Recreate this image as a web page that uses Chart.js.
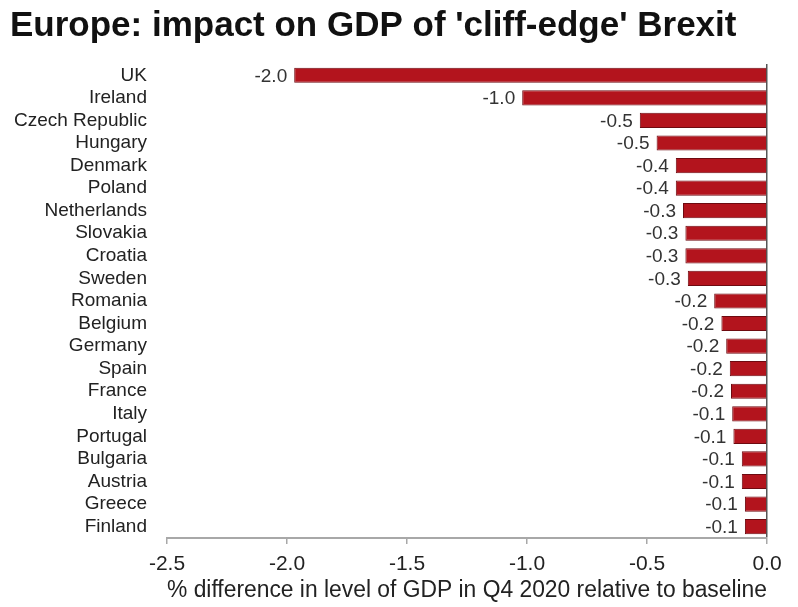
<!DOCTYPE html>
<html>
<head>
<meta charset="utf-8">
<title>Europe: impact on GDP of 'cliff-edge' Brexit</title>
<script src="https://cdn.jsdelivr.net/npm/chart.js@4.4.1/dist/chart.umd.min.js"></script>
<style>
    html, body { margin: 0; padding: 0; background: #fff; }
    #wrap { width: 798px; height: 607px; position: relative; }
</style>
</head>
<body>
<div id="wrap"><canvas id="chart-brexit"></canvas></div>
<script>
// Daten
const countries = [
    'UK', 'Ireland', 'Czech Republic', 'Hungary', 'Denmark', 'Poland', 'Netherlands',
    'Slovakia', 'Croatia', 'Sweden', 'Romania', 'Belgium', 'Germany', 'Spain',
    'France', 'Italy', 'Portugal', 'Bulgaria', 'Austria', 'Greece', 'Finland'
];
const gdpImpact = [
    -1.97, -1.02, -0.53, -0.46, -0.38, -0.38, -0.35,
    -0.34, -0.34, -0.33, -0.22, -0.19, -0.17, -0.155,
    -0.15, -0.145, -0.14, -0.105, -0.105, -0.092, -0.092
];
// gedruckte Werte neben den Balken
const valueLabels = [
    '-2.0', '-1.0', '-0.5', '-0.5', '-0.4', '-0.4', '-0.3',
    '-0.3', '-0.3', '-0.3', '-0.2', '-0.2', '-0.2', '-0.2',
    '-0.2', '-0.1', '-0.1', '-0.1', '-0.1', '-0.1', '-0.1'
];
const xTicks = [-2.5, -2.0, -1.5, -1.0, -0.5, 0.0];

const FONT = "'Liberation Sans', Arial, sans-serif";
const COLORS = {
    bar: '#B3141D',
    barBorder: '#6E0A10',
    text: '#222222',
    axis: '#A8A8A8',
    zero: '#555555'
};

// Wertbeschriftung links am Balkenende
const valueLabelPlugin = {
    id: 'valueLabels',
    afterDatasetsDraw(chart) {
        const ctx = chart.ctx;
        const meta = chart.getDatasetMeta(0);
        ctx.save();
        ctx.font = '19px ' + FONT;
        ctx.fillStyle = '#333333';
        ctx.textAlign = 'right';
        ctx.textBaseline = 'middle';
        meta.data.forEach((bar, i) => {
            ctx.fillText(valueLabels[i], bar.x - 7, bar.y + 1);
        });
        ctx.restore();
    }
};

const ctx = document.getElementById('chart-brexit');

new Chart(ctx, {
    type: 'bar',
    data: {
        labels: countries,
        datasets: [{
            data: gdpImpact,
            backgroundColor: COLORS.bar,
            borderColor: COLORS.barBorder,
            borderWidth: 1,
            barPercentage: 0.8,
            categoryPercentage: 0.84
        }]
    },
    options: {
        indexAxis: 'y',
        responsive: true,
        maintainAspectRatio: false,
        animation: false,
        layout: {
            padding: { left: 10, right: 31, top: 0, bottom: 5 }
        },
        plugins: {
            legend: { display: false },
            tooltip: { enabled: false },
            title: {
                display: true,
                text: "Europe: impact on GDP of 'cliff-edge' Brexit",
                align: 'start',
                color: '#111111',
                font: { family: FONT, size: 35, weight: 'bold', lineHeight: 1.2 },
                padding: { top: 5, bottom: 17 }
            }
        },
        scales: {
            x: {
                type: 'linear',
                min: -2.5,
                max: 0,
                afterBuildTicks: (scale) => {
                    scale.ticks = xTicks.map(v => ({ value: v }));
                },
                ticks: {
                    callback: (value) => value.toFixed(1),
                    color: COLORS.text,
                    font: { family: FONT, size: 21, lineHeight: 1 },
                    padding: 10,
                    maxRotation: 0
                },
                grid: {
                    drawOnChartArea: true,
                    color: (c) => (c.tick && c.tick.value === 0) ? COLORS.zero : 'rgba(0,0,0,0)',
                    tickColor: COLORS.axis,
                    tickLength: 6,
                    lineWidth: 1.5
                },
                border: { display: true, color: COLORS.axis, width: 2 },
                title: {
                    display: true,
                    text: '% difference in level of GDP in Q4 2020 relative to baseline',
                    color: COLORS.text,
                    font: { family: FONT, size: 23, lineHeight: 0.96 },
                    padding: { top: -5, bottom: 0 }
                }
            },
            y: {
                afterFit: (scale) => { scale.width = 157; },
                grid: { display: false, drawTicks: false },
                border: { display: false },
                ticks: {
                    autoSkip: false,
                    color: COLORS.text,
                    font: { family: FONT, size: 19, lineHeight: 1 },
                    padding: 20
                }
            }
        }
    },
    plugins: [valueLabelPlugin]
});
</script>
</body>
</html>
